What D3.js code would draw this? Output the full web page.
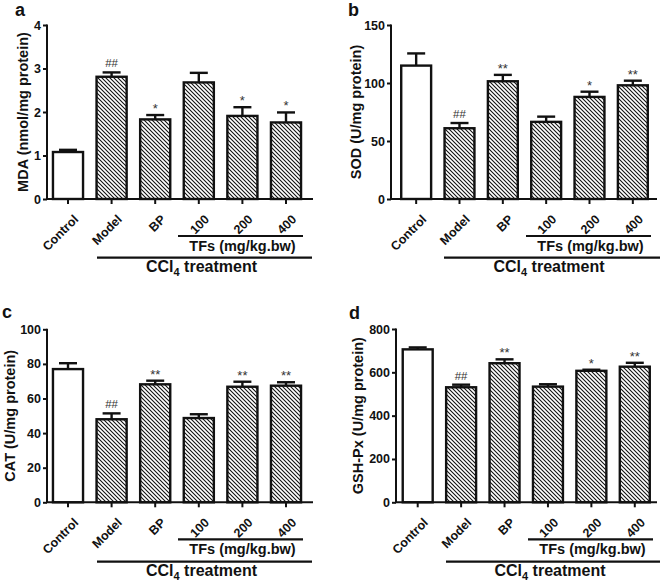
<!DOCTYPE html>
<html>
<head>
<meta charset="utf-8">
<script src="https://cdn.jsdelivr.net/npm/d3@7"></script>
<style>
  html, body { margin: 0; padding: 0; background: #fff; }
  svg text { font-family: "Liberation Sans", Arial, sans-serif; }
</style>
</head>
<body>
<svg id="chart" width="662" height="583"></svg>
<script>
// ---------------- DATA ----------------
const categories = ["Control", "Model", "BP", "100", "200", "400"];

const mdaMean = [1.08, 2.81, 1.83, 2.68, 1.91, 1.76];
const mdaErr  = [0.05, 0.10, 0.10, 0.22, 0.20, 0.23];
const mdaSig  = ["", "##", "*", "", "*", "*"];
const mdaTicks = [0, 1, 2, 3, 4];

const sodMean = [115, 61, 101.5, 66.5, 88, 98];
const sodErr  = [10.5, 4.5, 5.5, 4.5, 4.5, 4];
const sodSig  = ["", "##", "**", "", "*", "**"];
const sodTicks = [0, 50, 100, 150];

const catMean = [77, 48, 68.2, 48.7, 66.8, 67.4];
const catErr  = [3.4, 3.4, 2.1, 2.2, 2.9, 2.0];
const catSig  = ["", "##", "**", "", "**", "**"];
const catTicks = [0, 20, 40, 60, 80, 100];

const gshMean = [706, 531, 642, 534, 607, 626];
const gshErr  = [9, 12, 18, 11, 5, 18];
const gshSig  = ["", "##", "**", "", "*", "**"];
const gshTicks = [0, 200, 400, 600, 800];

const panelLetters = ["a", "b", "c", "d"];
const yTitles = ["MDA (nmol/mg protein)", "SOD (U/mg protein)", "CAT (U/mg protein)", "GSH-Px (U/mg protein)"];
const tfsLabel = "TFs (mg/kg.bw)";

// ---------------- LAYOUT ----------------
const svg = d3.select("#chart");

const defs = svg.append("defs");
const pat = defs.append("pattern")
  .attr("id", "hatch").attr("patternUnits", "userSpaceOnUse")
  .attr("width", 4).attr("height", 4);
pat.append("rect").attr("width", 4).attr("height", 4).attr("fill", "#fff");
pat.append("path")
  .attr("d", "M-1,-1 L5,5 M-1,3 L1,5 M3,-1 L5,1")
  .attr("stroke", "#111").attr("stroke-width", 1.1);

const panels = [
  { mean: mdaMean, err: mdaErr, sig: mdaSig, ticks: mdaTicks,
    axisX: 47, band: [46.2, 307.8], axisEnd: 313, yTop: 25, yBot: 199,
    tfs: [178, 303], tfsY: 236, ccl: [97, 312], cclY: 257.7, titleX: 23, letterX: 15, letterY: 16 },
  { mean: sodMean, err: sodErr, sig: sodSig, ticks: sodTicks,
    axisX: 391, band: [394.5, 654.5], axisEnd: 657, yTop: 25, yBot: 199,
    tfs: [526, 651], tfsY: 236, ccl: [444, 660], cclY: 257.7, titleX: 356, letterX: 348, letterY: 16 },
  { mean: catMean, err: catErr, sig: catSig, ticks: catTicks,
    axisX: 47, band: [46.2, 307.8], axisEnd: 313, yTop: 329.3, yBot: 502.3,
    tfs: [178, 303], tfsY: 539.3, ccl: [97, 312], cclY: 561.7, titleX: 10, letterX: 2, letterY: 318 },
  { mean: gshMean, err: gshErr, sig: gshSig, ticks: gshTicks,
    axisX: 396, band: [396, 656.5], axisEnd: 657, yTop: 329, yBot: 502.3,
    tfs: [528, 653], tfsY: 539.3, ccl: [446, 660], cclY: 561.7, titleX: 358, letterX: 349, letterY: 319 }
];

panels.forEach((p, pi) => {
  const g = svg.append("g");
  const maxT = p.ticks[p.ticks.length - 1];
  const y = d3.scaleLinear().domain([0, maxT]).range([p.yBot, p.yTop]);
  const x = d3.scaleBand().domain(categories).range(p.band).paddingInner(0.31).paddingOuter(0.155);

  // bars
  g.selectAll("rect.bar").data(categories).enter().append("rect")
    .attr("class", "bar")
    .attr("x", d => x(d))
    .attr("width", x.bandwidth())
    .attr("y", (d, i) => y(p.mean[i]))
    .attr("height", (d, i) => p.yBot - y(p.mean[i]))
    .attr("fill", (d, i) => i === 0 ? "#fff" : "url(#hatch)")
    .attr("stroke", "#111").attr("stroke-width", 2.4);

  // error bars (upper only)
  const cap = 18;
  categories.forEach((c, i) => {
    const cx = x(c) + x.bandwidth() / 2;
    const top = y(p.mean[i] + p.err[i]);
    g.append("line").attr("x1", cx).attr("x2", cx)
      .attr("y1", y(p.mean[i])).attr("y2", top)
      .attr("stroke", "#111").attr("stroke-width", 2.4);
    g.append("line").attr("x1", cx - cap / 2).attr("x2", cx + cap / 2)
      .attr("y1", top).attr("y2", top)
      .attr("stroke", "#111").attr("stroke-width", 2.4);
    if (p.sig[i]) {
      g.append("text").attr("x", cx).attr("y", top - (p.sig[i] === "##" ? 5 : 2))
        .attr("text-anchor", "middle").attr("font-size", p.sig[i] === "##" ? 11.5 : 13)
        .attr("fill", "#333").text(p.sig[i]);
    }
  });

  // y axis
  const yAxis = d3.axisLeft(y).tickValues(p.ticks).tickSize(4).tickPadding(2).tickFormat(d3.format("d"));
  const ya = g.append("g").attr("transform", `translate(${p.axisX},0)`).call(yAxis);
  ya.select(".domain").attr("stroke", "#111").attr("stroke-width", 2)
    .attr("d", `M0,${p.yBot}V${p.yTop - 0.5}`);
  ya.selectAll(".tick line").attr("stroke", "#111").attr("stroke-width", 2);
  ya.selectAll(".tick text").attr("font-size", 12.5).attr("font-weight", "bold").attr("fill", "#111")
    .style("font-family", '"Liberation Sans", Arial, sans-serif');

  // x axis
  const xAxis = d3.axisBottom(x).tickSize(5).tickFormat("");
  const xa = g.append("g").attr("transform", `translate(0,${p.yBot})`).call(xAxis);
  xa.select(".domain").attr("stroke", "#111").attr("stroke-width", 2)
    .attr("d", `M${p.axisX - 1},0H${p.axisEnd}`);
  xa.selectAll(".tick line").attr("stroke", "#111").attr("stroke-width", 2);

  // rotated category labels
  g.selectAll("text.cat").data(categories).enter().append("text")
    .attr("class", "cat")
    .attr("transform", d => `translate(${x(d) + x.bandwidth() / 2 + 8},${p.yBot + 18}) rotate(-45)`)
    .attr("text-anchor", "end").attr("dy", "0.35em")
    .attr("font-size", 12.5).attr("font-weight", "bold").attr("fill", "#111")
    .text(d => d);

  // TFs bracket
  g.append("line").attr("x1", p.tfs[0]).attr("x2", p.tfs[1]).attr("y1", p.tfsY).attr("y2", p.tfsY)
    .attr("stroke", "#111").attr("stroke-width", 2.2);
  g.append("text").attr("x", (p.tfs[0] + p.tfs[1]) / 2 + 2).attr("y", p.tfsY + 14.5)
    .attr("text-anchor", "middle").attr("font-size", 14.5).attr("font-weight", "bold").attr("fill", "#111")
    .text(tfsLabel);

  // CCl4 bracket
  g.append("line").attr("x1", p.ccl[0]).attr("x2", p.ccl[1]).attr("y1", p.cclY).attr("y2", p.cclY)
    .attr("stroke", "#111").attr("stroke-width", 2.2);
  const ct = g.append("text").attr("x", (p.ccl[0] + p.ccl[1]) / 2 - 3).attr("y", p.cclY + 14.5)
    .attr("text-anchor", "middle").attr("font-size", 16).attr("font-weight", "bold").attr("fill", "#111");
  ct.append("tspan").text("CCl");
  ct.append("tspan").attr("font-size", 11).attr("dy", 4).text("4");
  ct.append("tspan").attr("dy", -4).text(" treatment");

  // y title
  g.append("text")
    .attr("transform", `translate(${p.titleX},${(p.yTop + p.yBot) / 2}) rotate(-90)`)
    .attr("text-anchor", "middle").attr("dy", "0.35em")
    .attr("font-size", 14.5).attr("font-weight", "bold").attr("fill", "#111")
    .text(yTitles[pi]);

  // panel letter
  g.append("text").attr("x", p.letterX).attr("y", p.letterY)
    .attr("font-size", 18).attr("font-weight", "bold").attr("fill", "#111")
    .text(panelLetters[pi]);
});
</script>
</body>
</html>
